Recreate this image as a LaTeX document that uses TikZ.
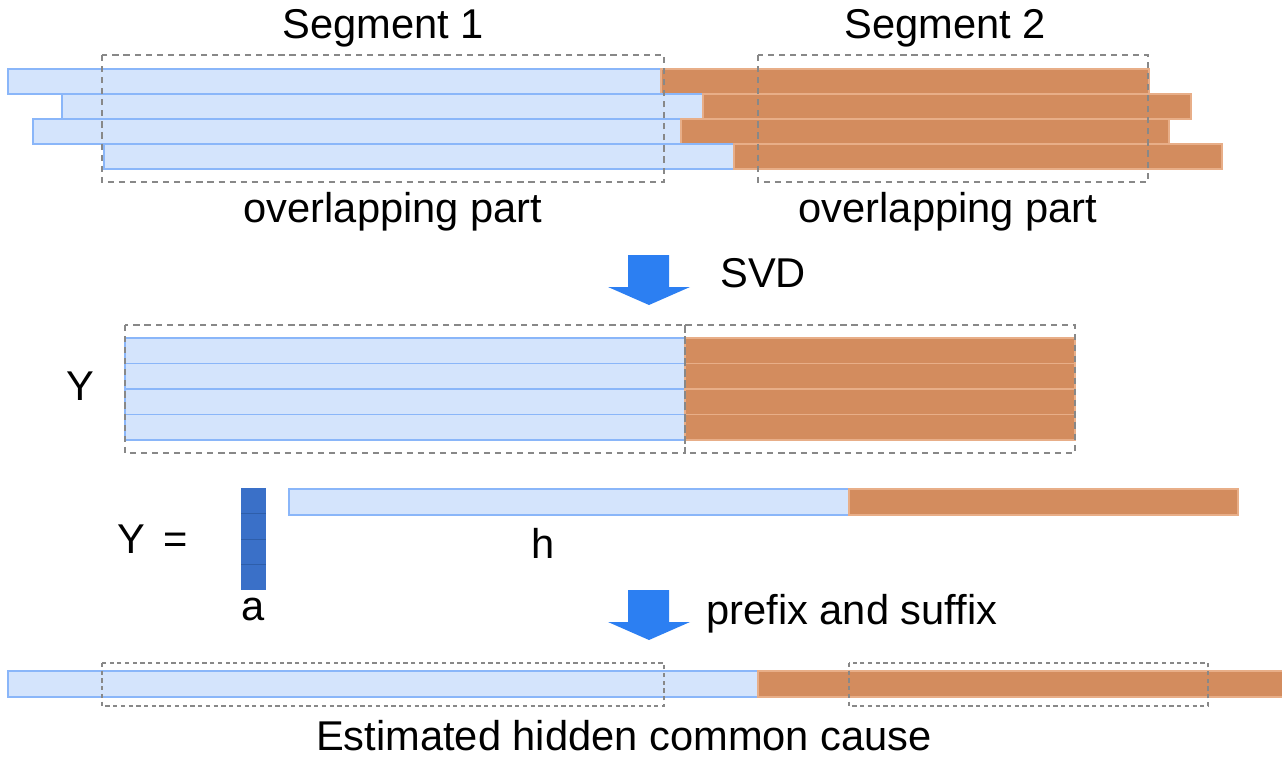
\documentclass[tikz,border=0pt]{standalone}
\usepackage{fontspec}
\setmainfont{Liberation Sans}
\definecolor{lblue}{HTML}{D4E4FC}
\definecolor{bblue}{HTML}{8AB6F9}
\definecolor{orng}{HTML}{D38C5E}
\definecolor{borng}{HTML}{E8AE88}
\definecolor{dblue}{HTML}{3A70C8}
\definecolor{dblueline}{HTML}{2E5EAA}
\definecolor{arrblue}{HTML}{2C7FF2}
\definecolor{dashgray}{HTML}{888888}
\tikzset{
	bluebar/.style={fill=lblue, draw=bblue, line width=0.9pt},
	orangebar/.style={fill=orng, draw=borng, line width=0.9pt},
	segbox/.style={draw=dashgray, line width=0.9pt, dash pattern=on 3.5pt off 2.8pt},
	segboxfine/.style={draw=dashgray, line width=0.9pt, dash pattern=on 2.4pt off 2pt},
	lbl/.style={font=\fontsize{23.7}{28}\selectfont, inner sep=0pt, anchor=base},
}
\begin{document}
\begin{tikzpicture}[x=0.02cm, y=-0.02cm]
						\useasboundingbox (0,0) rectangle (1282,757);
						% segments and their bars
						\foreach \lft/\mid [count=\i] in {8/661, 62/703, 33/681, 104/734}{
							\pgfmathsetmacro{\yt}{69+25*(\i-1)}%
							\pgfmathsetmacro{\yb}{\yt+25}%
							\pgfmathsetmacro{\rgt}{\mid+488}%
							\draw[bluebar] (\lft,\yt) rectangle (\mid,\yb);
							\draw[orangebar] (\mid,\yt) rectangle (\rgt,\yb);
						}
						\draw[segbox] (102,55) rectangle (664,182);
						\draw[segbox] (758,55) rectangle (1148,182);
						% labels
						\node[lbl] (seg1) at (383,39) {Segment 1};
						\node[lbl] (seg2) at (945,39) {Segment 2};
						\node[lbl] (ovl1) at (393,222) {overlapping part};
						\node[lbl] (ovl2) at (948,222) {overlapping part};
						% SVD step
						\fill[arrblue] (628,255) -- (669,255) -- (669,287) -- (690,287) -- (649,305)
							-- (608,287) -- (628,287) -- cycle;
						\node[lbl, anchor=base west] (svd) at (720,287) {SVD};
						% matrix Y
						\foreach \i in {0,...,3}{
							\pgfmathsetmacro{\yt}{338+25.5*\i}%
							\pgfmathsetmacro{\yb}{\yt+25.5}%
							\draw[bluebar] (125,\yt) rectangle (685,\yb);
							\draw[orangebar] (685,\yt) rectangle (1075,\yb);
						}
						\draw[segbox] (125,325) rectangle (685,453);
						\draw[segbox] (685,325) rectangle (1075,453);
						\node[lbl] (ylbl) at (80,400) {Y};
						% Y = a h
						\node[lbl, anchor=base west] (yeq) at (117,553) {Y \,=};
						\fill[dblue] (241,488) rectangle (266,590);
						\foreach \yy in {513.5,539,564.5}
							\draw[dblueline, line width=0.5pt] (241,\yy) -- (266,\yy);
						\node[lbl] (albl) at (253,620) {a};
						\draw[bluebar] (289,489) rectangle (849,515);
						\draw[orangebar] (849,489) rectangle (1238,515);
						\node[lbl] (hlbl) at (543,558) {h};
						% prefix and suffix step
						\fill[arrblue] (628,590) -- (669,590) -- (669,622) -- (690,622) -- (649,640)
							-- (608,622) -- (628,622) -- cycle;
						\node[lbl, anchor=base west] (pfx) at (706,624) {prefix and suffix};
						% estimated cause
						\draw[bluebar] (8,671) rectangle (758,697);
						\draw[orangebar] (758,671) rectangle (1290,697);
						\draw[segboxfine] (102,663) rectangle (664,706);
						\draw[segboxfine] (849,663) rectangle (1208,706);
						\node[lbl] (est) at (624,750) {Estimated hidden common cause};
					\end{tikzpicture}
\end{document}
